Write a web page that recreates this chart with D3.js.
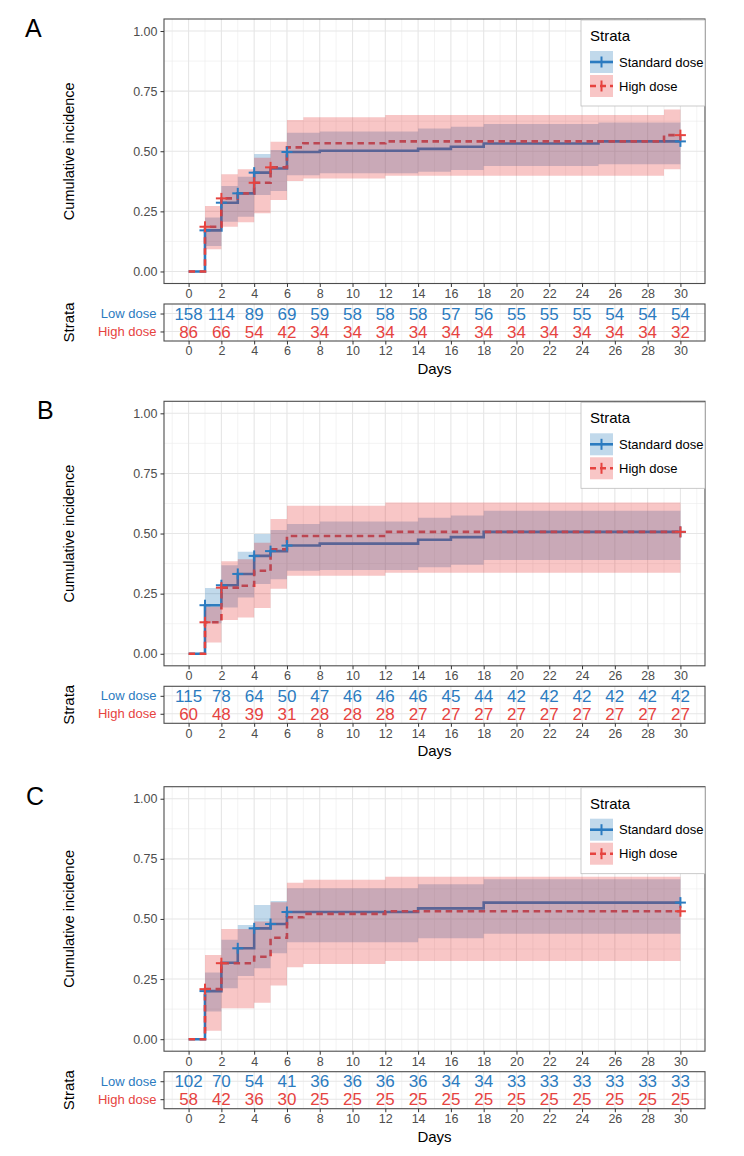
<!DOCTYPE html>
<html>
<head>
<meta charset="utf-8">
<script src="https://cdn.jsdelivr.net/npm/d3@7"></script>
<style>
body { margin: 0; background: #fff; }
text { font-family: Arial, "Liberation Sans", sans-serif; }
</style>
</head>
<body>
<div id="chart"></div>
<script>
// tick values and strata
var xTicks = [0, 2, 4, 6, 8, 10, 12, 14, 16, 18, 20, 22, 24, 26, 28, 30];
var xMinor = [-1, 1, 3, 5, 7, 9, 11, 13, 15, 17, 19, 21, 23, 25, 27, 29, 31];
var yTicks = [0, 0.25, 0.5, 0.75, 1];
var yMinor = [0.125, 0.375, 0.625, 0.875];
var strata = ["Low dose", "High dose"];
var legendLabels = ["Standard dose", "High dose"];
var riskDays = [0, 2, 4, 6, 8, 10, 12, 14, 16, 18, 20, 22, 24, 26, 28, 30];

// panel A
var aStdT   = [0, 1, 2, 3, 4, 5, 6, 8, 14, 16, 18, 25, 30];
var aStdEst = [0, .171, .286, .325, .411, .428, .497, .502, .510, .519, .532, .541, .541];
var aStdLo  = [0, .106, .207, .228, .318, .335, .400, .408, .415, .422, .439, .446, .446];
var aStdUp  = [0, .225, .355, .394, .489, .505, .577, .582, .595, .602, .613, .620, .620];
var aStdCens = [1, 2, 3, 4, 6, 30];
var aHighT   = [0, 1, 2, 3, 4, 5, 6, 7, 12, 29, 30];
var aHighEst = [0, .186, .304, .325, .369, .433, .516, .533, .541, .567, .567];
var aHighLo  = [0, .092, .186, .205, .242, .297, .376, .387, .398, .425, .425];
var aHighUp  = [0, .272, .404, .425, .473, .540, .630, .641, .651, .674, .674];
var aHighCens = [1, 2, 4, 5, 30];
var aLowRisk  = [158, 114, 89, 69, 59, 58, 58, 58, 57, 56, 55, 55, 55, 54, 54, 54];
var aHighRisk = [86, 66, 54, 42, 34, 34, 34, 34, 34, 34, 34, 34, 34, 34, 34, 32];

// panel B
var bStdT   = [0, 1, 2, 3, 4, 5, 6, 8, 14, 16, 18, 30];
var bStdEst = [0, .202, .285, .332, .407, .427, .450, .458, .474, .485, .507, .507];
var bStdLo  = [0, .127, .192, .234, .290, .310, .345, .348, .360, .370, .390, .390];
var bStdUp  = [0, .274, .368, .424, .498, .515, .540, .550, .566, .575, .595, .595];
var bStdCens = [1, 2, 3, 4, 5, 6, 30];
var bHighT   = [0, 1, 2, 3, 4, 5, 6, 12, 30];
var bHighEst = [0, .131, .275, .283, .345, .435, .490, .507, .507];
var bHighLo  = [0, .047, .140, .151, .190, .270, .325, .337, .337];
var bHighUp  = [0, .196, .385, .393, .462, .560, .616, .629, .629];
var bHighCens = [1, 2, 30];
var bLowRisk  = [115, 78, 64, 50, 47, 46, 46, 46, 45, 44, 42, 42, 42, 42, 42, 42];
var bHighRisk = [60, 48, 39, 31, 28, 28, 28, 27, 27, 27, 27, 27, 27, 27, 27, 27];

// panel C
var cStdT   = [0, 1, 2, 3, 4, 5, 6, 14, 18, 30];
var cStdEst = [0, .200, .318, .378, .461, .479, .529, .544, .568, .568];
var cStdLo  = [0, .115, .212, .263, .295, .357, .403, .420, .438, .438];
var cStdUp  = [0, .277, .413, .475, .558, .575, .628, .644, .665, .665];
var cStdCens = [1, 3, 4, 5, 6, 30];
var cHighT   = [0, 1, 2, 4, 5, 6, 7, 12, 30];
var cHighEst = [0, .208, .316, .343, .422, .507, .521, .532, .532];
var cHighLo  = [0, .035, .129, .152, .223, .299, .313, .325, .325];
var cHighUp  = [0, .350, .458, .489, .569, .651, .663, .675, .675];
var cHighCens = [1, 2, 30];
var cLowRisk  = [102, 70, 54, 41, 36, 36, 36, 36, 34, 34, 33, 33, 33, 33, 33, 33];
var cHighRisk = [58, 42, 36, 30, 25, 25, 25, 25, 25, 25, 25, 25, 25, 25, 25, 25];

var blue = "#2b7bc0";
var red = "#e6433f";
var blueFill = "#3182bd";
var redFill = "#e41a1c";

var panels = [
  {label: "A", top: 19, labelX: 25,
   std: {t: aStdT, est: aStdEst, lo: aStdLo, up: aStdUp, cens: aStdCens},
   high: {t: aHighT, est: aHighEst, lo: aHighLo, up: aHighUp, cens: aHighCens},
   risk: [aLowRisk, aHighRisk]},
  {label: "B", top: 401.3, labelX: 37,
   std: {t: bStdT, est: bStdEst, lo: bStdLo, up: bStdUp, cens: bStdCens},
   high: {t: bHighT, est: bHighEst, lo: bHighLo, up: bHighUp, cens: bHighCens},
   risk: [bLowRisk, bHighRisk]},
  {label: "C", top: 786.7, labelX: 26,
   std: {t: cStdT, est: cStdEst, lo: cStdLo, up: cStdUp, cens: cStdCens},
   high: {t: cHighT, est: cHighEst, lo: cHighLo, up: cHighUp, cens: cHighCens},
   risk: [cLowRisk, cHighRisk]}
];

var svg = d3.select("#chart").append("svg")
    .attr("width", 744)
    .attr("height", 1156);

var x = d3.scaleLinear().domain([-1.5, 31.5]).range([164, 705]);

function stepValue(s, t) {
    var i = d3.bisectRight(s.t, t) - 1;
    return s.est[Math.max(i, 0)];
}

function styleAxis(ax) {
    ax.attr("font-size", null).attr("font-family", null);
    ax.select(".domain").remove();
    ax.selectAll(".tick line").attr("stroke", "#333").attr("stroke-width", 1);
    ax.selectAll(".tick text").attr("fill", "#4d4d4d").style("font-size", "12.5px");
}

function drawPanel(p, idx) {
    var top = p.top, bottom = top + 264.5;
    var y = d3.scaleLinear().domain([-0.05, 1.05]).range([bottom, top]);
    var g = svg.append("g");

    // grid
    g.selectAll(".xminor").data(xMinor).enter().append("line")
        .attr("x1", d => x(d)).attr("x2", d => x(d)).attr("y1", top).attr("y2", bottom)
        .attr("stroke", "#ebebeb").attr("stroke-width", 0.6);
    g.selectAll(".yminor").data(yMinor).enter().append("line")
        .attr("x1", 164).attr("x2", 705).attr("y1", d => y(d)).attr("y2", d => y(d))
        .attr("stroke", "#ebebeb").attr("stroke-width", 0.6);
    g.selectAll(".xmajor").data(xTicks).enter().append("line")
        .attr("x1", d => x(d)).attr("x2", d => x(d)).attr("y1", top).attr("y2", bottom)
        .attr("stroke", "#e6e6e6").attr("stroke-width", 1.1);
    g.selectAll(".ymajor").data(yTicks).enter().append("line")
        .attr("x1", 164).attr("x2", 705).attr("y1", d => y(d)).attr("y2", d => y(d))
        .attr("stroke", "#e6e6e6").attr("stroke-width", 1.1);

    var clipId = "clip" + idx;
    svg.append("clipPath").attr("id", clipId).append("rect")
        .attr("x", 164).attr("y", top).attr("width", 541).attr("height", 264.5);
    var plot = g.append("g").attr("clip-path", "url(#" + clipId + ")");

    var line = d3.line().curve(d3.curveStepAfter)
        .x(d => x(d.t)).y(d => y(d.v));
    var area = d3.area().curve(d3.curveStepAfter)
        .x(d => x(d.t)).y0(d => y(d.lo)).y1(d => y(d.up));

    function pts(s) {
        return s.t.map((t, i) => ({t: t, v: s.est[i], lo: s.lo[i], up: s.up[i]}));
    }

    plot.append("path").datum(pts(p.std)).attr("d", line)
        .attr("fill", "none").attr("stroke", blue).attr("stroke-width", 2.6);
    plot.append("path").datum(pts(p.high)).attr("d", line)
        .attr("fill", "none").attr("stroke", red).attr("stroke-width", 2.6)
        .attr("stroke-dasharray", "6.5,4.5");
    plot.append("path").datum(pts(p.std)).attr("d", area)
        .attr("fill", blueFill).attr("fill-opacity", 0.3);
    plot.append("path").datum(pts(p.high)).attr("d", area)
        .attr("fill", redFill).attr("fill-opacity", 0.25);

    [[p.std, blue], [p.high, red]].forEach(function(pair) {
        var s = pair[0];
        var c = g.selectAll(null).data(s.cens).enter().append("g")
            .attr("transform", d => "translate(" + x(d) + "," + y(stepValue(s, d)) + ")");
        c.append("line").attr("x1", -5.5).attr("x2", 5.5).attr("stroke", pair[1]).attr("stroke-width", 2);
        c.append("line").attr("y1", -5.5).attr("y2", 5.5).attr("stroke", pair[1]).attr("stroke-width", 2);
    });

    g.append("rect").attr("x", 164).attr("y", top).attr("width", 541).attr("height", 264.5)
        .attr("fill", "none").attr("stroke", "#4d4d4d").attr("stroke-width", 1.1);

    var yAx = g.append("g").attr("transform", "translate(164,0)")
        .call(d3.axisLeft(y).tickValues(yTicks).tickFormat(d3.format(".2f")).tickSize(3.5).tickPadding(3));
    styleAxis(yAx);
    var xAx = g.append("g").attr("transform", "translate(0," + bottom + ")")
        .call(d3.axisBottom(x).tickValues(xTicks).tickSize(3.5).tickPadding(2));
    styleAxis(xAx);

    g.append("text").attr("transform", "translate(74," + ((top + bottom) / 2) + ") rotate(-90)")
        .attr("text-anchor", "middle").style("font-size", "14.5px").attr("fill", "#000")
        .text("Cumulative incidence");
    g.append("text").attr("x", p.labelX).attr("y", top + 18)
        .style("font-size", "25px").attr("fill", "#000").text(p.label);

    // legend
    var lg = g.append("g").attr("transform", "translate(581," + (top + 1) + ")");
    lg.append("rect").attr("width", 124).attr("height", 86)
        .attr("fill", "#fff").attr("stroke", "#bdbdbd").attr("stroke-width", 0.8);
    lg.append("text").attr("x", 9).attr("y", 21).style("font-size", "15px").text("Strata");
    var keys = [[blueFill, 0.3, blue, null], [redFill, 0.25, red, "6,4"]];
    keys.forEach(function(k, i) {
        var ky = 31 + i * 24;
        lg.append("rect").attr("x", 9).attr("y", ky).attr("width", 23).attr("height", 22)
            .attr("fill", k[0]).attr("fill-opacity", k[1]);
        lg.append("line").attr("x1", 9).attr("x2", 32).attr("y1", ky + 11).attr("y2", ky + 11)
            .attr("stroke", k[2]).attr("stroke-width", 2.6).attr("stroke-dasharray", k[3]);
        lg.append("line").attr("x1", 20.5).attr("x2", 20.5).attr("y1", ky + 5.5).attr("y2", ky + 16.5)
            .attr("stroke", k[2]).attr("stroke-width", 2);
        lg.append("text").attr("x", 38).attr("y", ky + 11).attr("dy", "0.35em")
            .style("font-size", "13px").text(legendLabels[i]);
    });

    // risk table
    var tTop = top + 285, tH = 37;
    var yr = d3.scalePoint().domain(strata).range([tTop, tTop + tH]).padding(0.53);
    var tg = svg.append("g");
    tg.selectAll(".txmin").data(xMinor).enter().append("line")
        .attr("x1", d => x(d)).attr("x2", d => x(d)).attr("y1", tTop).attr("y2", tTop + tH)
        .attr("stroke", "#ebebeb").attr("stroke-width", 0.6);
    tg.selectAll(".txmaj").data(xTicks).enter().append("line")
        .attr("x1", d => x(d)).attr("x2", d => x(d)).attr("y1", tTop).attr("y2", tTop + tH)
        .attr("stroke", "#e6e6e6").attr("stroke-width", 1.1);
    tg.selectAll(".tymaj").data(strata).enter().append("line")
        .attr("x1", 164).attr("x2", 705).attr("y1", d => yr(d)).attr("y2", d => yr(d))
        .attr("stroke", "#e6e6e6").attr("stroke-width", 1.1);
    var colors = [blue, red];
    strata.forEach(function(s, si) {
        tg.selectAll(null).data(p.risk[si]).enter().append("text")
            .attr("x", (d, i) => x(riskDays[i])).attr("y", yr(s)).attr("dy", "0.36em")
            .attr("text-anchor", "middle").style("font-size", "17px").attr("fill", colors[si])
            .text(d => d);
    });
    tg.append("rect").attr("x", 164).attr("y", tTop).attr("width", 541).attr("height", tH)
        .attr("fill", "none").attr("stroke", "#4d4d4d").attr("stroke-width", 1.1);
    var tyAx = tg.append("g").attr("transform", "translate(164,0)")
        .call(d3.axisLeft(yr).tickSize(3.5).tickPadding(4));
    styleAxis(tyAx);
    tyAx.selectAll(".tick text").style("font-size", "13px").attr("fill", (d, i) => colors[i]);
    var txAx = tg.append("g").attr("transform", "translate(0," + (tTop + tH) + ")")
        .call(d3.axisBottom(x).tickValues(xTicks).tickSize(3.5).tickPadding(2));
    styleAxis(txAx);
    tg.append("text").attr("transform", "translate(74," + (tTop + tH / 2) + ") rotate(-90)")
        .attr("text-anchor", "middle").style("font-size", "15px").text("Strata");
    tg.append("text").attr("x", 434.5).attr("y", tTop + 70)
        .attr("text-anchor", "middle").style("font-size", "15px").text("Days");
}

panels.forEach(drawPanel);
</script>
</body>
</html>
